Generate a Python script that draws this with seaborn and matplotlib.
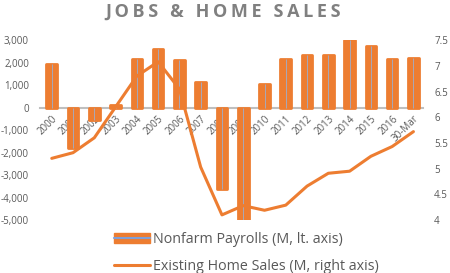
import numpy as np
import pandas as pd
import matplotlib
matplotlib.use("Agg")
import matplotlib.pyplot as plt
import seaborn as sns
from matplotlib.patches import Patch
from matplotlib.lines import Line2D
from matplotlib.legend_handler import HandlerTuple

categories = ["2000", "2001", "2002", "2003", "2004", "2005", "2006", "2007", "2008",
              "2009", "2010", "2011", "2012", "2013", "2014", "2015", "2016", "30-Mar"]
payrolls = [1950, -1780, -540, 120, 2180, 2620, 2100, 1150, -3600,
            -5070, 1060, 2180, 2330, 2320, 3000, 2720, 2180, 2200]
home_sales = [5.20, 5.31, 5.60, 6.20, 6.80, 7.08, 6.55, 5.03, 4.10,
              4.28, 4.19, 4.29, 4.66, 4.91, 4.95, 5.24, 5.43, 5.72]
left_ticks = [-5000, -4000, -3000, -2000, -1000, 0, 1000, 2000, 3000]
right_ticks = [4, 4.5, 5, 5.5, 6, 6.5, 7, 7.5]
title = "JOBS & HOME SALES"

ORANGE = "#ED7D31"
GRAY_TXT = "#595959"

sns.set_style("white")
plt.rcParams["font.family"] = ["Open Sans", "DejaVu Sans"]

df = pd.DataFrame({"cat": categories, "payrolls": payrolls, "sales": home_sales})
df["pos"] = np.arange(len(df))

fig = plt.figure(figsize=(4.5, 2.73), dpi=100)
ax = fig.add_axes([0.089, 0.194, 0.851, 0.659])

sns.barplot(data=df, x="cat", y="payrolls", color=ORANGE, saturation=1,
            width=0.5, ax=ax, zorder=2)
for p in ax.patches:
    p.set_edgecolor(ORANGE)
    p.set_linewidth(2.0)
    p.set_joinstyle("round")
ax.vlines(df["pos"], 0, df["payrolls"], color="#a8a8b8", lw=0.7, zorder=3)

ax.set_ylim(-5000, 3000)
ax.set_xlim(-0.55, len(categories) - 0.55)
ax.set_yticks(left_ticks)
ax.set_yticklabels([f"{v:,}" for v in left_ticks])
ax.set_xlabel("")
ax.set_ylabel("")
for s in ["top", "left", "right"]:
    ax.spines[s].set_visible(False)
ax.spines["bottom"].set_position(("data", 0))
ax.spines["bottom"].set_color("#bfbfbf")
ax.spines["bottom"].set_linewidth(1.5)
ax.spines["bottom"].set_zorder(1)
ax.tick_params(axis="both", length=0, colors=GRAY_TXT, labelsize=7)
ax.tick_params(axis="y", pad=8)
for lbl in ax.get_xticklabels():
    lbl.set_rotation(45)
    lbl.set_ha("right")
    lbl.set_rotation_mode("anchor")
ax.tick_params(axis="x", pad=4)

ax2 = ax.twinx()
sns.lineplot(data=df, x="pos", y="sales", color=ORANGE, lw=2.2, ax=ax2)
ax2.set_ylim(4, 7.5)
ax2.set_yticks(right_ticks)
ax2.set_yticklabels([f"{v:g}" for v in right_ticks])
ax2.set_xlabel("")
ax2.set_ylabel("")
for s in ax2.spines.values():
    s.set_visible(False)
ax2.tick_params(axis="y", length=0, colors=GRAY_TXT, labelsize=7, pad=8)

fig.text(0.495, 0.957, "\u2009".join(title), ha="center", va="center",
         fontsize=13, fontweight="bold", color="#808080",
         family=["Open Sans", "DejaVu Sans"])

h_bar = (Patch(facecolor=ORANGE, edgecolor=ORANGE), Line2D([], [], color="#7f9fd8", lw=1.5))
h_line = Line2D([], [], color=ORANGE, lw=2.2)
fig.legend([h_bar, h_line],
           ["Nonfarm Payrolls (M, lt. axis)", "Existing Home Sales (M, right axis)"],
           handler_map={tuple: HandlerTuple(ndivide=1)},
           loc="lower left", bbox_to_anchor=(0.225, -0.05), frameon=False,
           fontsize=10.3, labelcolor=GRAY_TXT, handlelength=2.5, handletextpad=0.25,
           labelspacing=0.85)

fig.savefig("out.png", dpi=100)
